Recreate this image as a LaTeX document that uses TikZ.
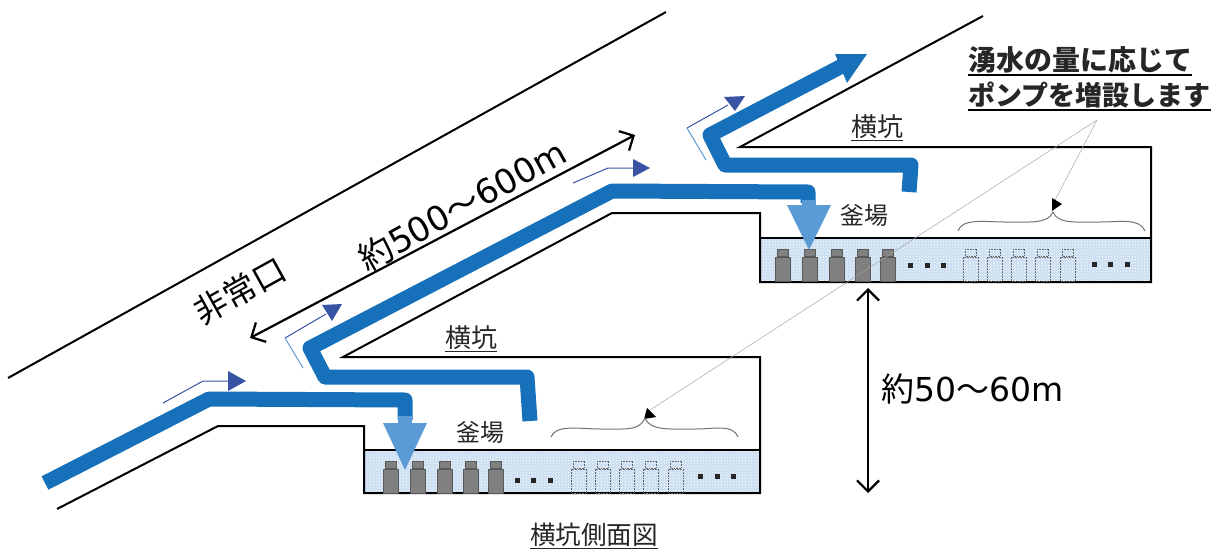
\documentclass[tikz,border=0pt]{standalone}
\usepackage{fontspec}
\setmainfont{Noto Sans CJK JP}
\newfontfamily\widedigits{DejaVu Sans}
\usetikzlibrary{arrows.meta,patterns}
\definecolor{flowblue}{HTML}{1770BA}
\definecolor{dropblue}{HTML}{5B9BD5}
\definecolor{markblue}{HTML}{3953A4}
\definecolor{waterblue}{HTML}{CADEF1}
\definecolor{textdark}{HTML}{262626}
\tikzset{
	tunnel/.style={line width=2pt, color=black},
	flow/.style={line width=15pt, color=flowblue, line join=round},
	measure/.style={line width=2.2pt, {Straight Barb[length=11pt,width=22pt]}-{Straight Barb[length=11pt,width=22pt]}},
	guide/.style={line width=1pt, color=markblue},
	leader/.style={line width=0.5pt, color=black!35},
	brace/.style={line width=1pt, color=black!55},
	smalltext/.style={text=textdark, inner sep=0pt, font=\fontsize{24}{26}\selectfont},
	bigtext/.style={text=black, inner sep=0pt, font=\fontsize{33}{36}\selectfont},
	notetext/.style={text=textdark, inner sep=0pt, anchor=west, font=\fontsize{27}{30}\selectfont\bfseries},
	noterule/.style={line width=2.2pt, color=black},
	pump/.style={fill=black!50, draw=black!65, line width=0.6pt},
	spare/.style={draw=black!60, densely dotted, line width=0.6pt}
}
\def\pumpbody[#1](#2,#3){\draw[#1] (#2-7.5, #3) rectangle (#2+7.5, #3-24); \draw[#1] (#2-5.5, #3-25) rectangle (#2+5.5, #3-32);}
\begin{document}
\begin{tikzpicture}[x=1pt, y=-1pt]
	\useasboundingbox (0, 0) rectangle (1213, 549);

	%%%%% water %%%%%
	\fill[waterblue] (364, 450) rectangle (760, 493);
	\fill[pattern=crosshatch dots, pattern color=white] (364, 450) rectangle (760, 493);
	\fill[waterblue] (760, 238) rectangle (1151, 282);
	\fill[pattern=crosshatch dots, pattern color=white] (760, 238) rectangle (1151, 282);

	%%%%% tunnels %%%%%
	\draw[tunnel] (8, 378) -- (666, 12);
	\draw[tunnel] (57, 509) -- (218, 426) -- (364, 426) -- (364, 493) -- (760, 493) -- (760, 357) -- (343, 357) -- (612, 213) -- (760, 213) -- (760, 282) -- (1151, 282) -- (1151, 147) -- (740, 147) -- (983, 16);
	\draw[line width=1.2pt] (364, 450) -- (760, 450);
	\draw[line width=1.2pt] (760, 238) -- (1151, 238);

	%%%%% pumps %%%%%
	\foreach \px in {391, 418, 445, 471, 496}
		\pumpbody[pump](\px, 493);
	\foreach \px in {783, 810, 837, 863, 888}
		\pumpbody[pump](\px, 281);
	\foreach \px in {579, 603, 627, 651, 676}
		\pumpbody[spare](\px, 493);
	\foreach \px in {971, 995, 1019, 1043, 1068}
		\pumpbody[spare](\px, 281);

	\foreach \px in {517, 533, 550}
		\fill[textdark] (\px-2.5, 478) rectangle (\px+2.5, 483);
	\foreach \px in {700, 717, 733}
		\fill[textdark] (\px-2.5, 474) rectangle (\px+2.5, 479);
	\foreach \px in {910, 927, 943}
		\fill[textdark] (\px-2.5, 263) rectangle (\px+2.5, 268);
	\foreach \px in {1094, 1110, 1127}
		\fill[textdark] (\px-2.5, 262) rectangle (\px+2.5, 267);

	%%%%% water flow %%%%%
	\draw[flow] (45, 483) -- (209, 399) -- (405, 400) -- (405, 420);
	\fill[dropblue] (398, 416) rectangle (412, 424);
	\fill[dropblue] (383, 423) -- (427, 423) -- (405, 470) -- cycle;
	\draw[flow] (530, 421) -- (527, 377) -- (325, 377) -- (310, 348) -- (612, 191) -- (808, 192) -- (808, 203);
	\fill[dropblue] (802, 200) rectangle (816, 206);
	\fill[dropblue] (787, 205) -- (831, 205) -- (809, 250) -- cycle;
	\draw[flow] (909, 192) -- (911, 165) -- (725, 165) -- (710, 135) -- (842, 66);
	\fill[flowblue] (835, 54) -- (867, 54) -- (847, 83) -- cycle;

	%%%%% small arrows %%%%%
	\draw[guide] (163, 403) -- (203, 381) -- (230, 381);
	\fill[markblue] (228, 371) -- (246, 381) -- (228, 391) -- cycle;
	\draw[guide] (285, 338) -- (326, 314);
	\draw[line width=1pt, color=dropblue] (285, 338) -- (303, 368);
	\fill[markblue] (322, 305) -- (342, 304) -- (332, 321) -- cycle;
	\draw[guide] (573, 183) -- (608, 168) -- (635, 168);
	\fill[markblue] (633, 159) -- (650, 168) -- (633, 177) -- cycle;
	\draw[guide] (687, 128) -- (728, 105);
	\draw[line width=1pt, color=dropblue] (687, 128) -- (706, 160);
	\fill[markblue] (724, 97) -- (745, 96) -- (735, 111) -- cycle;

	%%%%% measures %%%%%
	\coordinate (slopelow) at (250, 338);
	\coordinate (slopehigh) at (635, 135);
	\coordinate (depthtop) at (868, 288);
	\coordinate (depthlow) at (868, 493);
	\draw[measure] (slopelow) -- (slopehigh);
	\draw[measure] (depthtop) -- (depthlow);

	%%%%% leaders and braces %%%%%
	\coordinate (notefoot) at (1097, 120);
	\coordinate (lowbrace) at (647, 412);
	\coordinate (highbrace) at (1053, 204);
	\draw[leader] (notefoot) -- (lowbrace);
	\draw[leader] (notefoot) -- (highbrace);
	\fill (647, 408) -- (656, 417) -- (644, 419) -- cycle;
	\fill (1052, 198) -- (1062, 204) -- (1052, 211) -- cycle;
	\draw[brace] (551, 437) .. controls (556, 424) and (580, 429) .. (600, 429) .. controls (625, 429) and (640, 431) .. (645, 418) .. controls (650, 431) and (670, 429) .. (695, 429) .. controls (715, 429) and (733, 424) .. (738, 437);
	\draw[brace] (958, 231) .. controls (962, 218) and (985, 222) .. (1005, 222) .. controls (1030, 222) and (1048, 224) .. (1053, 212) .. controls (1058, 224) and (1075, 222) .. (1100, 222) .. controls (1120, 222) and (1140, 218) .. (1145, 231);

	%%%%% text %%%%%
	\node[bigtext, rotate=29] (exitlabel) at (240, 291) {非常口};
	\node[bigtext, rotate=29, font=\fontsize{34}{36}\selectfont] (slopelabel) at (462, 205) {約{\widedigits 500}〜{\widedigits 600m}};
	\node[bigtext] (depthlabel) at (973, 389) {約{\widedigits 50}〜{\widedigits 60m}};
	\node[smalltext, font=\fontsize{26}{28}\selectfont] (sidelow) at (471, 339) {\underline{横坑}};
	\node[smalltext, font=\fontsize{26}{28}\selectfont] (sidehigh) at (877, 128) {\underline{横坑}};
	\node[smalltext] (basinlow) at (480, 432) {釜場};
	\node[smalltext] (basinhigh) at (864, 215) {釜場};
	\node[smalltext, font=\fontsize{25.6}{27}\selectfont] (caption) at (594, 536) {\underline{横坑側面図}};
	\node[notetext, font=\fontsize{28}{30}\selectfont\bfseries] (noteone) at (968, 60) {湧水の量に応じて};
	\node[notetext] (notetwo) at (968, 95) {ポンプを増設します};
	\draw[noterule] ([yshift=-1.5pt]noteone.south west) -- ([yshift=-1.5pt]noteone.south east);
	\draw[noterule] ([yshift=-1.5pt]notetwo.south west) -- ([yshift=-1.5pt]notetwo.south east);
\end{tikzpicture}
\end{document}
